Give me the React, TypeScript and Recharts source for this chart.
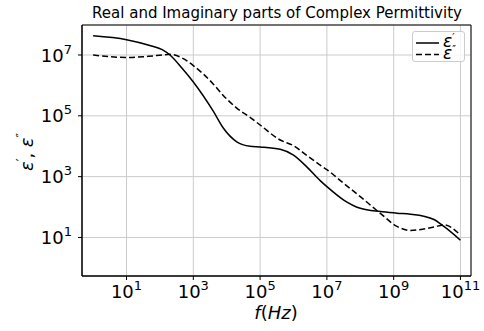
import { LineChart, Line, XAxis, YAxis, CartesianGrid, ReferenceArea } from 'recharts'

const FONT = '"DejaVu Sans", sans-serif'

// frequency in Hz
const freq = [1, 10, 47, 117, 200, 468, 1e3, 4e3, 8e3, 2e4, 5e4, 1e5, 4e5, 1e6, 2.5e6, 6.3e6, 1e7, 3.2e7, 1e8, 4e8, 1.26e9, 3.2e9, 8e9, 1.6e10, 3.2e10, 1e11]
// real part  ε'
const epsReal = [4.3e7, 3.2e7, 2.1e7, 1.5e7, 1.0e7, 3.6e6, 1.3e6, 1.4e5, 3.9e4, 1.4e4, 1.0e4, 9.5e3, 7.9e3, 5.1e3, 2.1e3, 740, 470, 170, 91, 71, 63, 58, 50, 39, 23, 8.1]
// imaginary part  ε''
const epsImag = [1.0e7, 8.3e6, 9.1e6, 1.0e7, 1.05e7, 7.9e6, 4.5e6, 1.1e6, 4.6e5, 1.8e5, 8.9e4, 5.0e4, 1.6e4, 1.05e4, 5.0e3, 2.4e3, 1.7e3, 600, 220, 62, 23, 17, 19, 22, 26, 12]

const xTicks = [10, 1e3, 1e5, 1e7, 1e9, 1e11]
const yTicks = [10, 1e3, 1e5, 1e7]
const xDomain: [number, number] = [0.464, 2.07e11]
const yDomain: [number, number] = [0.54, 9.7e7]

const data = freq.map((f, i) => ({ f, re: epsReal[i], im: epsImag[i] }))

const exp10 = (v: number) => Math.round(Math.log10(v))

function XTick({ x, y, payload }: any) {
  return (
    <text x={x} y={y + 16} textAnchor="middle" fontSize={18} fill="#000" fontFamily={FONT}>
      10<tspan dy={-8} fontSize={13}>{exp10(payload.value)}</tspan>
    </text>
  )
}

function YTick({ x, y, payload }: any) {
  return (
    <text x={x - 4} y={y + 6.5} textAnchor="end" fontSize={18} fill="#000" fontFamily={FONT}>
      10<tspan dy={-8} fontSize={13}>{exp10(payload.value)}</tspan>
    </text>
  )
}

function LegendBox() {
  return (
    <div style={{ position: 'absolute', left: 411.7, top: 30.7, width: 53, height: 31, boxSizing: 'border-box', border: '1px solid #cccccc', borderRadius: 3, background: 'rgba(255,255,255,0.8)' }}>
      <svg width={51} height={29} style={{ display: 'block', overflow: 'visible' }}>
        <line x1={3} x2={26} y1={11} y2={11} stroke="#000" strokeWidth={1.5} />
        <text x={30} y={15} fontSize={17} fontFamily={FONT}>
          <tspan fontStyle="italic">ε</tspan>
          <tspan dy={-6} fontSize={10}>′</tspan>
        </text>
        <line x1={3} x2={26} y1={22.5} y2={22.5} stroke="#000" strokeWidth={1.5} strokeDasharray="6 3" />
        <text x={30} y={26.5} fontSize={17} fontFamily={FONT}>
          <tspan fontStyle="italic">ε</tspan>
          <tspan dy={-6} fontSize={10}>″</tspan>
        </text>
      </svg>
    </div>
  )
}

export default function App() {
  return (
    <div style={{ position: 'absolute', left: 0, top: 0, width: 484, height: 331, background: '#fff' }}>
      <LineChart width={484} height={331} data={data} margin={{ top: 25, right: 13, bottom: 25, left: 22 }}>
        <CartesianGrid stroke="#cbcbcb" strokeWidth={1} />
        <XAxis
          dataKey="f"
          type="number"
          scale="log"
          domain={xDomain}
          allowDataOverflow
          ticks={xTicks}
          interval={0}
          tick={<XTick />}
          tickSize={4}
          tickMargin={2}
          height={30}
          axisLine={{ stroke: '#000' }}
          tickLine={{ stroke: '#000' }}
        />
        <YAxis
          type="number"
          scale="log"
          domain={yDomain}
          allowDataOverflow
          ticks={yTicks}
          interval={0}
          tick={<YTick />}
          tickSize={4}
          tickMargin={2}
          width={60}
          axisLine={{ stroke: '#000' }}
          tickLine={{ stroke: '#000' }}
        />
        <ReferenceArea x1={xDomain[0]} x2={xDomain[1]} y1={yDomain[0]} y2={yDomain[1]} fill="none" stroke="#000" strokeWidth={1} ifOverflow="visible" />
        <Line type="monotone" dataKey="re" stroke="#000" strokeWidth={1.5} dot={false} isAnimationActive={false} />
        <Line type="monotone" dataKey="im" stroke="#000" strokeWidth={1.5} strokeDasharray="6 3" dot={false} isAnimationActive={false} />
      </LineChart>
      <LegendBox />
      <svg width={484} height={331} style={{ position: 'absolute', left: 0, top: 0, pointerEvents: 'none' }}>
        <text x={277} y={18} textAnchor="middle" fontSize={15} fontFamily={FONT} fill="#000">
          Real and Imaginary parts of Complex Permittivity
        </text>
        <text x={276} y={319} textAnchor="middle" fontSize={18} fontFamily={FONT} fill="#000">
          <tspan fontStyle="italic">f</tspan>(<tspan fontStyle="italic">Hz</tspan>)
        </text>
        <text transform="translate(33,152) rotate(-90)" textAnchor="middle" fontSize={18} fontFamily={FONT} fill="#000">
          <tspan fontStyle="italic">ε</tspan>
          <tspan dy={-8} fontSize={12}>′</tspan>
          <tspan dy={8}>, </tspan>
          <tspan fontStyle="italic">ε</tspan>
          <tspan dy={-8} fontSize={12}>″</tspan>
        </text>
      </svg>
    </div>
  )
}
